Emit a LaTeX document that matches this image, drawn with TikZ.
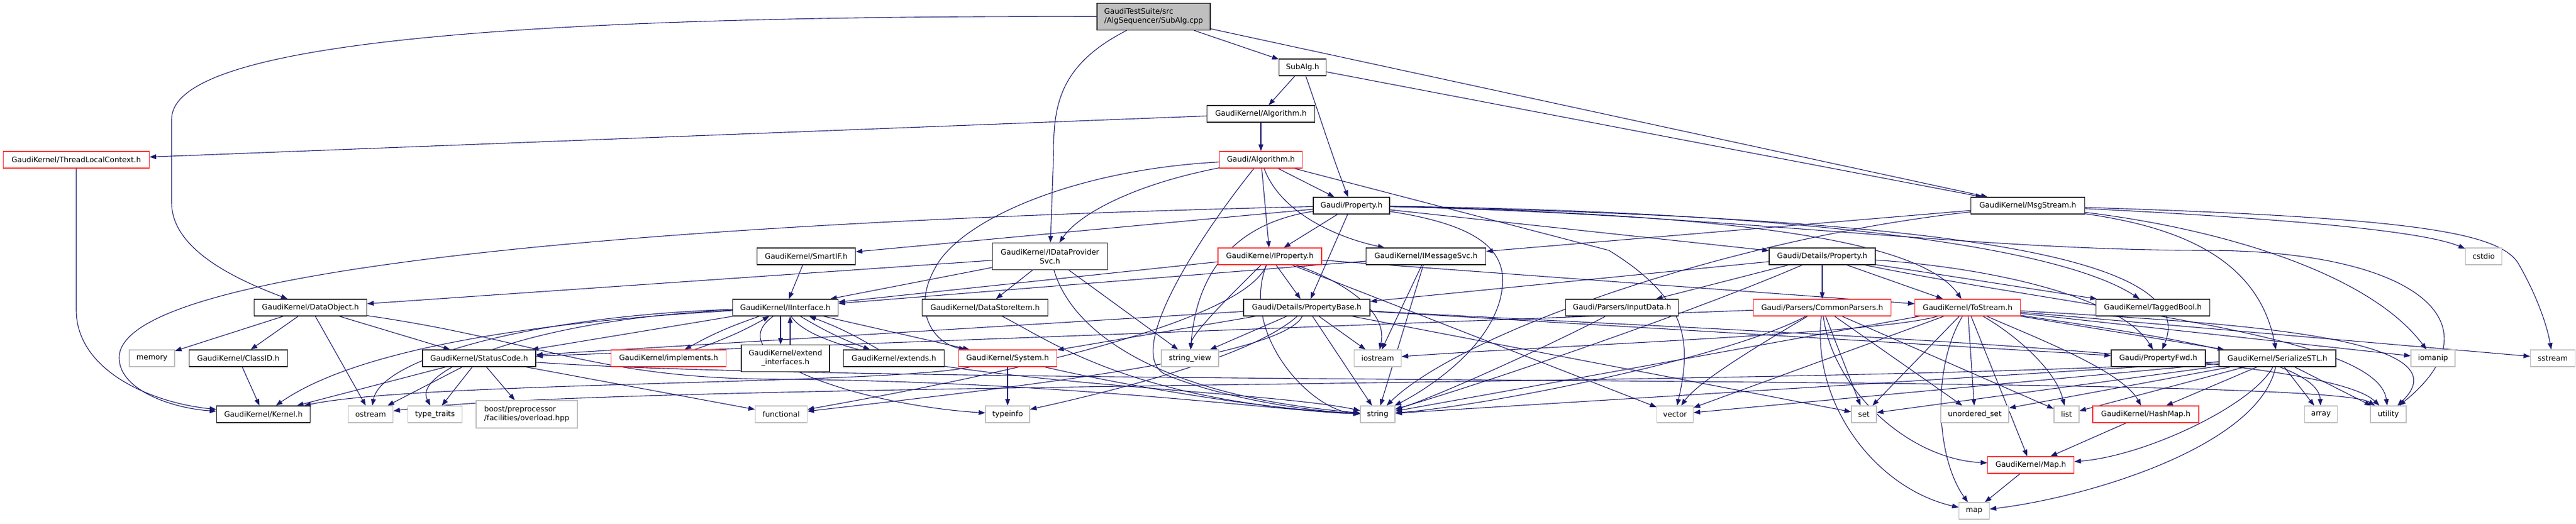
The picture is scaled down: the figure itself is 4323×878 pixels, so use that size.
\documentclass[tikz,border=0pt]{standalone}
\usepackage{fontspec}
\setmainfont{DejaVu Sans}
\usetikzlibrary{arrows.meta}
\definecolor{edgec}{HTML}{191970}
\definecolor{redb}{HTML}{FF3030}
\definecolor{grayb}{HTML}{BFBFBF}
\newcommand\nfont{\fontsize{12.5}{15}\selectfont}
\pgfdeclarelayer{bg}
\pgfsetlayers{bg,main}
\tikzset{
  box/.style={draw=black!85, line width=1.2pt, fill=white, minimum height=28pt, inner xsep=2pt, inner ysep=2pt, font=\nfont, text=black},
  redbox/.style={box, draw=redb},
  sysbox/.style={box, draw=grayb},
  rootbox/.style={box, fill=grayb},
  edge/.style={draw=edgec, line width=1.1pt, -{Triangle[length=11pt,width=8pt]}}
}
\begin{document}
\begin{tikzpicture}[x=1pt,y=-1pt]
\useasboundingbox (0,0) rectangle (4323,878);
% nodes
\node[rootbox, minimum width=190pt, minimum height=45pt, align=left] (cpp) at (1936,28) {GaudiTestSuite/src\\/AlgSequencer/SubAlg.cpp};
\node[box, minimum width=79pt] (subalgh) at (2186,113) {SubAlg.h};
\node[box, minimum width=181pt] (gkalg) at (2116,191) {GaudiKernel/Algorithm.h};
\node[redbox, minimum width=139pt] (galg) at (2116,268) {Gaudi/Algorithm.h};
\node[redbox, minimum width=245pt] (tlc) at (128,268) {GaudiKernel/ThreadLocalContext.h};
\node[box, minimum width=128pt] (prop) at (2268,345) {Gaudi/Property.h};
\node[box, minimum width=191pt] (msg) at (3403,345) {GaudiKernel/MsgStream.h};
\node[box, minimum width=165pt] (smartif) at (1353,430) {GaudiKernel/SmartIF.h};
\node[box, minimum width=193pt, minimum height=45pt, align=center] (idp) at (1762,430) {GaudiKernel/IDataProvider\\Svc.h};
\node[redbox, minimum width=174pt] (iprop) at (2131,430) {GaudiKernel/IProperty.h};
\node[box, minimum width=201pt] (imsg) at (2393,430) {GaudiKernel/IMessageSvc.h};
\node[box, minimum width=178pt] (dprop) at (3058,430) {Gaudi/Details/Property.h};
\node[sysbox, minimum width=61pt] (cstdio) at (4168,430) {cstdio};
\node[box, minimum width=189pt] (dataobj) at (521,516) {GaudiKernel/DataObject.h};
\node[box, minimum width=177pt] (iint) at (1318,516) {GaudiKernel/IInterface.h};
\node[box, minimum width=211pt] (dsi) at (1653,516) {GaudiKernel/DataStoreItem.h};
\node[box, minimum width=212pt] (pbase) at (2193,516) {Gaudi/Details/PropertyBase.h};
\node[box, minimum width=189pt] (input) at (2722,516) {Gaudi/Parsers/InputData.h};
\node[redbox, minimum width=231pt] (cparse) at (3058,516) {Gaudi/Parsers/CommonParsers.h};
\node[redbox, minimum width=177pt] (tostream) at (3302,516) {GaudiKernel/ToStream.h};
\node[box, minimum width=191pt] (tagged) at (3613,516) {GaudiKernel/TaggedBool.h};
\node[sysbox, minimum width=76pt] (memory) at (255,601) {memory};
\node[box, minimum width=165pt] (classid) at (400,601) {GaudiKernel/ClassID.h};
\node[box, minimum width=190pt] (sc) at (804,601) {GaudiKernel/StatusCode.h};
\node[redbox, minimum width=193pt] (impl) at (1122,601) {GaudiKernel/implements.h};
\node[box, minimum width=148pt, minimum height=45pt, align=center] (extif) at (1318,601) {GaudiKernel/extend\\\_interfaces.h};
\node[box, minimum width=169pt] (extends) at (1500,601) {GaudiKernel/extends.h};
\node[redbox, minimum width=165pt] (system) at (1691,601) {GaudiKernel/System.h};
\node[sysbox, minimum width=96pt] (sview) at (1997,601) {string\_view};
\node[sysbox, minimum width=79pt] (iostream) at (2312,601) {iostream};
\node[box, minimum width=158pt] (pfwd) at (3622,601) {Gaudi/PropertyFwd.h};
\node[box, minimum width=196pt] (sstl) at (3822,601) {GaudiKernel/SerializeSTL.h};
\node[sysbox, minimum width=74pt] (iomanip) at (4083,601) {iomanip};
\node[sysbox, minimum width=75pt] (sstream) at (4284,601) {sstream};
\node[box, minimum width=157pt] (kernel) at (442,695) {GaudiKernel/Kernel.h};
\node[sysbox, minimum width=75pt] (ostream) at (622,695) {ostream};
\node[sysbox, minimum width=91pt] (ttraits) at (730,695) {type\_traits};
\node[sysbox, minimum width=170pt, minimum height=46pt, align=left] (boost) at (884,695) {boost/preprocessor\\/facilities/overload.hpp};
\node[sysbox, minimum width=87pt] (functional) at (1311,695) {functional};
\node[sysbox, minimum width=74pt] (typeinfo) at (1691,695) {typeinfo};
\node[sysbox, minimum width=58pt] (string) at (2312,695) {string};
\node[sysbox, minimum width=61pt] (vector) at (2811,695) {vector};
\node[sysbox, minimum width=42pt] (set) at (3128,695) {set};
\node[sysbox, minimum width=114pt] (uset) at (3314,695) {unordered\_set};
\node[sysbox, minimum width=42pt] (list) at (3468,695) {list};
\node[redbox, minimum width=178pt] (hashmap) at (3601,695) {GaudiKernel/HashMap.h};
\node[sysbox, minimum width=55pt] (array) at (3895,695) {array};
\node[sysbox, minimum width=60pt] (utility) at (4008,695) {utility};
\node[redbox, minimum width=145pt] (maph) at (3408,780) {GaudiKernel/Map.h};
\node[sysbox, minimum width=51pt] (map) at (3313,857) {map};
% edges
\begin{pgfonlayer}{bg}
\draw[edge] (cpp) -- (subalgh);
\draw[edge] (cpp) -- (msg);
\draw[edge] (cpp) .. controls (1775,110) and (1768,180) .. (1768,260) -- (idp);
\draw[edge] (cpp) .. controls (700,25) and (288,90) .. (288,200) -- (288,340) .. controls (288,420) and (400,470) .. (dataobj);
\draw[edge] (subalgh) -- (gkalg);
\draw[edge] (subalgh) .. controls (2210,180) and (2235,260) .. (prop);
\draw[edge] (subalgh) -- (msg);
\draw[edge] (gkalg) -- (galg);
\draw[edge] (gkalg) -- (tlc);
\draw[edge] (tlc) -- (128,520) .. controls (128,620) and (250,675) .. (kernel);
% Gaudi/Algorithm.h
\draw[edge] (galg) .. controls (1800,285) and (1610,370) .. (1569,450) .. controls (1530,520) and (1565,575) .. (system);
\draw[edge] (galg) .. controls (1900,310) and (1810,360) .. (idp);
\draw[edge] (galg) .. controls (2010,400) and (1880,600) .. (1960,630) .. controls (2060,670) and (2200,690) .. (string);
\draw[edge] (galg) -- (iprop);
\draw[edge] (galg) .. controls (2150,360) and (2250,400) .. (imsg);
\draw[edge] (galg) -- (prop);
\draw[edge] (galg) -- (2700,420) .. controls (2830,500) and (2840,570) .. (vector);
% Gaudi/Property.h
\draw[edge] (prop) -- (smartif);
\draw[edge] (prop) .. controls (1200,370) and (200,440) .. (200,600) .. controls (200,655) and (290,685) .. (kernel);
\draw[edge] (prop) .. controls (2100,370) and (2010,430) .. (sview);
\draw[edge] (prop) -- (iprop);
\draw[edge] (prop) -- (pbase);
\draw[edge] (prop) .. controls (2500,380) and (2530,430) .. (2520,490) .. controls (2505,580) and (2400,650) .. (string);
\draw[edge] (prop) -- (dprop);
\draw[edge] (prop) .. controls (2900,360) and (3220,400) .. (tostream);
\draw[edge] (prop) .. controls (3000,355) and (3450,410) .. (tagged);
\draw[edge] (prop) .. controls (3200,365) and (3700,420) .. (pfwd);
\draw[edge] (prop) .. controls (2900,360) and (3300,420) .. (3700,420) .. controls (4050,420) and (4200,540) .. (utility);
% MsgStream.h
\draw[edge] (msg) -- (imsg);
\draw[edge] (msg) .. controls (2900,400) and (2450,560) .. (string);
\draw[edge] (msg) .. controls (3800,365) and (4060,385) .. (cstdio);
\draw[edge] (msg) .. controls (4050,365) and (4190,390) .. (4225,440) .. controls (4260,500) and (4275,550) .. (sstream);
\draw[edge] (msg) .. controls (3700,380) and (3970,450) .. (iomanip);
\draw[edge] (msg) .. controls (3650,380) and (3790,430) .. (sstl);
% IProperty.h
\draw[edge] (iprop) -- (iint);
\draw[edge] (iprop) -- (pbase);
\draw[edge] (iprop) .. controls (2060,500) and (2000,560) .. (sview);
\draw[edge] (iprop) .. controls (2080,560) and (2200,690) .. (string);
\draw[edge] (iprop) .. controls (2250,470) and (2330,520) .. (iostream);
\draw[edge] (iprop) -- (vector);
\draw[edge] (iprop) -- (tostream);
\draw[edge] (iprop) .. controls (2080,560) and (1500,660) .. (functional);
% IMessageSvc.h
\draw[edge] (imsg) -- (iint);
\draw[edge] (imsg) -- (string);
\draw[edge] (imsg) -- (iostream);
% IDataProviderSvc.h
\draw[edge] (idp) -- (dataobj);
\draw[edge] (idp) -- (iint);
\draw[edge] (idp) -- (dsi);
\draw[edge] (idp) -- (sview);
\draw[edge] (idp) .. controls (1800,560) and (1950,665) .. (string);
\draw[edge] (dsi) .. controls (1760,570) and (1900,675) .. (string);
\draw[edge] (smartif) -- (iint);
% Details/Property.h
\draw[edge] (dprop) -- (pbase);
\draw[edge] (dprop) -- (input);
\draw[edge] (dprop) -- (cparse);
\draw[edge] (dprop) .. controls (2850,520) and (2500,640) .. (string);
\draw[edge] (dprop) -- (tostream);
\draw[edge] (dprop) -- (tagged);
\draw[edge] (dprop) .. controls (3350,450) and (3560,500) .. (pfwd);
\draw[edge] (dprop) .. controls (3500,520) and (3990,560) .. (utility);
% PropertyBase.h
\draw[edge] (pbase) -- (string);
\draw[edge] (pbase) -- (iostream);
\draw[edge] (pbase) -- (sview);
\draw[edge] (pbase) -- (system);
\draw[edge] (pbase) .. controls (2100,600) and (1850,660) .. (typeinfo);
\draw[edge] (pbase) .. controls (2150,600) and (1700,650) .. (functional);
\draw[edge] (pbase) -- (sc);
\draw[edge] (pbase) -- (set);
\draw[edge] (pbase) -- (pfwd);
\draw[edge] (pbase) .. controls (3000,560) and (3900,590) .. (utility);
% StatusCode.h
\draw[edge] (sc) -- (kernel);
\draw[edge] (sc) -- (ostream);
\draw[edge] (sc) -- (ttraits);
\draw[edge] (sc) -- (boost);
\draw[edge] (sc) -- (functional);
\draw[edge] (sc) .. controls (1500,650) and (3900,625) .. (utility);
% DataObject.h
\draw[edge] (dataobj) -- (memory);
\draw[edge] (dataobj) -- (classid);
\draw[edge] (dataobj) -- (ostream);
\draw[edge] (dataobj) -- (sc);
\draw[edge] (dataobj) .. controls (900,570) and (1000,635) .. (1300,636) .. controls (1800,640) and (2150,690) .. (string);
\draw[edge] (classid) -- (kernel);
% IInterface.h
\draw[edge] (iint) to[bend right=5] (impl);
\draw[edge] (impl) to[bend right=5] (iint);
\draw[edge] ([xshift=-8pt]iint.south) -- ([xshift=-8pt]extif.north);
\draw[edge] ([xshift=8pt]extif.north) -- ([xshift=8pt]iint.south);
\draw[edge] (iint) to[bend right=5] (extends);
\draw[edge] (extends) to[bend right=5] (iint);
\draw[edge] (iint) -- (system);
\draw[edge] (iint) .. controls (900,540) and (600,585) .. (kernel);
\draw[edge] (iint) -- (sc);
\draw[edge] (iint) .. controls (900,530) and (640,600) .. (ostream);
\draw[edge] (iint) .. controls (900,535) and (690,620) .. (ttraits);
\draw[edge] (iint) .. controls (1200,600) and (1450,680) .. (typeinfo);
\draw[edge] (iint) .. controls (1400,640) and (2100,650) .. (string);
% System.h
\draw[edge] (system) -- (typeinfo);
\draw[edge] (system) .. controls (1500,645) and (700,640) .. (kernel);
\draw[edge] (system) .. controls (1900,650) and (2150,690) .. (string);
% InputData / CommonParsers
\draw[edge] (input) .. controls (2600,580) and (2400,670) .. (string);
\draw[edge] (cparse) -- (sc);
\draw[edge] (cparse) .. controls (2900,600) and (2500,680) .. (string);
\draw[edge] (cparse) .. controls (2950,580) and (2850,640) .. (vector);
\draw[edge] (cparse) -- (set);
\draw[edge] (cparse) -- (list);
\draw[edge] (cparse) -- (uset);
\draw[edge] (cparse) .. controls (3040,680) and (3150,820) .. (map);
\draw[edge] (cparse) .. controls (3075,650) and (3200,770) .. (maph);
% ToStream.h
\draw[edge] (tostream) .. controls (3240,620) and (3250,770) .. (map);
\draw[edge] (tostream) -- (maph);
\draw[edge] (tostream) -- (uset);
\draw[edge] (tostream) .. controls (3380,560) and (3450,620) .. (list);
\draw[edge] (tostream) .. controls (3400,560) and (3560,620) .. (hashmap);
\draw[edge] (tostream) .. controls (3600,560) and (3890,600) .. (array);
\draw[edge] (tostream) .. controls (3700,540) and (4150,560) .. (utility);
\draw[edge] (tostream) -- (iomanip);
\draw[edge] (tostream) -- (sstream);
\draw[edge] (tostream) -- (sstl);
\draw[edge] (tostream) -- (vector);
\draw[edge] (tostream) -- (set);
\draw[edge] (tostream) -- (string);
\draw[edge] (tostream) .. controls (3150,560) and (2600,580) .. (iostream);
% SerializeSTL.h
\draw[edge] (sstl) -- (hashmap);
\draw[edge] (sstl) .. controls (3780,680) and (3600,765) .. (maph);
\draw[edge] (sstl) .. controls (3790,750) and (3500,835) .. (map);
\draw[edge] (sstl) -- (array);
\draw[edge] (sstl) -- (utility);
\draw[edge] (sstl) -- (list);
\draw[edge] (sstl) -- (uset);
\draw[edge] (sstl) -- (vector);
\draw[edge] (sstl) -- (set);
\draw[edge] (sstl) -- (string);
\draw[edge] (sstl) .. controls (3000,650) and (1000,640) .. (ostream);
% maps
\draw[edge] (hashmap) -- (maph);
\draw[edge] (maph) -- (map);
\end{pgfonlayer}
\end{tikzpicture}
\end{document}
